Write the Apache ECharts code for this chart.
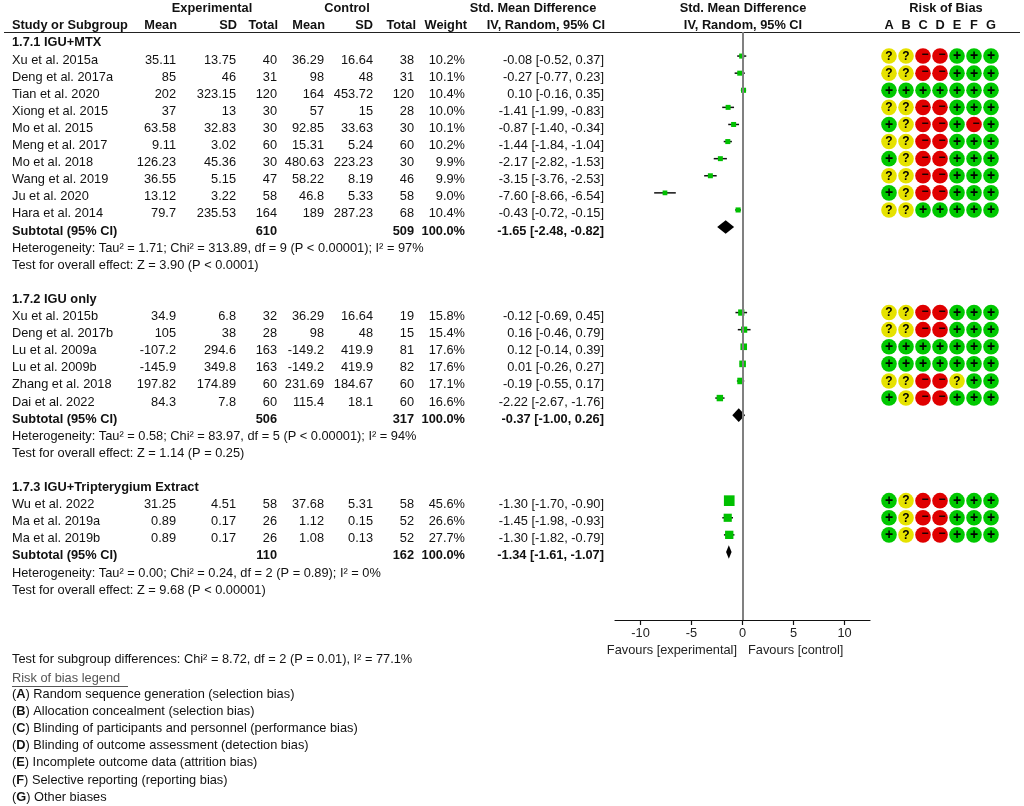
<!DOCTYPE html>
<html><head><meta charset="utf-8">
<script src="https://cdn.jsdelivr.net/npm/echarts@6/dist/echarts.min.js"></script>
<style>html,body{margin:0;padding:0;background:#fff;}#c{width:1024px;height:806px;}</style>
</head><body><div id="c"></div>
<script>
// ---------------- DATA ----------------
const groupLabels = ["1.7.1 IGU+MTX", "1.7.2 IGU only", "1.7.3 IGU+Tripterygium Extract"];

const studies1 = ["Xu et al. 2015a","Deng et al. 2017a","Tian et al. 2020","Xiong et al. 2015","Mo et al. 2015","Meng et al. 2017","Mo et al. 2018","Wang et al. 2019","Ju et al. 2020","Hara et al. 2014"];
const expMean1 = ["35.11","85","202","37","63.58","9.11","126.23","36.55","13.12","79.7"];
const expSD1   = ["13.75","46","323.15","13","32.83","3.02","45.36","5.15","3.22","235.53"];
const expN1    = [40,31,120,30,30,60,30,47,58,164];
const ctlMean1 = ["36.29","98","164","57","92.85","15.31","480.63","58.22","46.8","189"];
const ctlSD1   = ["16.64","48","453.72","15","33.63","5.24","223.23","8.19","5.33","287.23"];
const ctlN1    = [38,31,120,28,30,60,30,46,58,68];
const weight1  = [10.2,10.1,10.4,10.0,10.1,10.2,9.9,9.9,9.0,10.4];
const smd1     = [-0.08,-0.27,0.10,-1.41,-0.87,-1.44,-2.17,-3.15,-7.60,-0.43];
const lo1      = [-0.52,-0.77,-0.16,-1.99,-1.40,-1.84,-2.82,-3.76,-8.66,-0.72];
const hi1      = [0.37,0.23,0.35,-0.83,-0.34,-1.04,-1.53,-2.53,-6.54,-0.15];
const rob1     = ["??--+++","??--+++","+++++++","??--+++","+?--+-+","??--+++","+?--+++","??--+++","+?--+++","??+++++"];

const studies2 = ["Xu et al. 2015b","Deng et al. 2017b","Lu et al. 2009a","Lu et al. 2009b","Zhang et al. 2018","Dai et al. 2022"];
const expMean2 = ["34.9","105","-107.2","-145.9","197.82","84.3"];
const expSD2   = ["6.8","38","294.6","349.8","174.89","7.8"];
const expN2    = [32,28,163,163,60,60];
const ctlMean2 = ["36.29","98","-149.2","-149.2","231.69","115.4"];
const ctlSD2   = ["16.64","48","419.9","419.9","184.67","18.1"];
const ctlN2    = [19,15,81,82,60,60];
const weight2  = [15.8,15.4,17.6,17.6,17.1,16.6];
const smd2     = [-0.12,0.16,0.12,0.01,-0.19,-2.22];
const lo2      = [-0.69,-0.46,-0.14,-0.26,-0.55,-2.67];
const hi2      = [0.45,0.79,0.39,0.27,0.17,-1.76];
const rob2     = ["??--+++","??--+++","+++++++","+++++++","??--?++","+?--+++"];

const studies3 = ["Wu et al. 2022","Ma et al. 2019a","Ma et al. 2019b"];
const expMean3 = ["31.25","0.89","0.89"];
const expSD3   = ["4.51","0.17","0.17"];
const expN3    = [58,26,26];
const ctlMean3 = ["37.68","1.12","1.08"];
const ctlSD3   = ["5.31","0.15","0.13"];
const ctlN3    = [58,52,52];
const weight3  = [45.6,26.6,27.7];
const smd3     = [-1.30,-1.45,-1.30];
const lo3      = [-1.70,-1.98,-1.82];
const hi3      = [-0.90,-0.93,-0.79];
const rob3     = ["+?--+++","+?--+++","+?--+++"];

const subExpN  = [610,506,110];
const subCtlN  = [509,317,162];
const subSmd   = [-1.65,-0.37,-1.34];
const subLo    = [-2.48,-1.00,-1.61];
const subHi    = [-0.82,0.26,-1.07];
const heteroText = [
  "Heterogeneity: Tau\u00b2 = 1.71; Chi\u00b2 = 313.89, df = 9 (P < 0.00001); I\u00b2 = 97%",
  "Heterogeneity: Tau\u00b2 = 0.58; Chi\u00b2 = 83.97, df = 5 (P < 0.00001); I\u00b2 = 94%",
  "Heterogeneity: Tau\u00b2 = 0.00; Chi\u00b2 = 0.24, df = 2 (P = 0.89); I\u00b2 = 0%"
];
const effectText = [
  "Test for overall effect: Z = 3.90 (P < 0.0001)",
  "Test for overall effect: Z = 1.14 (P = 0.25)",
  "Test for overall effect: Z = 9.68 (P < 0.00001)"
];

const axisTicks = [-10,-5,0,5,10];
const robLetters = ["A","B","C","D","E","F","G"];
const robLegend = [
  "Random sequence generation (selection bias)",
  "Allocation concealment (selection bias)",
  "Blinding of participants and personnel (performance bias)",
  "Blinding of outcome assessment (detection bias)",
  "Incomplete outcome data (attrition bias)",
  "Selective reporting (reporting bias)",
  "Other biases"
];
const subgroupText = "Test for subgroup differences: Chi\u00b2 = 8.72, df = 2 (P = 0.01), I\u00b2 = 77.1%";

// ---------------- LAYOUT ----------------
const FF = '"Liberation Sans", Arial, sans-serif';
const FS = 12.8;
const TXT = '#111';
const ROW0 = 60, ROWH = 17.1, GTOP = 32, GBOT = 620;
const yMin = (GTOP - ROW0) / ROWH, yMax = (GBOT - ROW0) / ROWH;
const COL = {name:12, em:176, es:236, en:277, cm:324, cs:373, cn:414, w:465, ci:604};
const ROBX = [889, 906, 923, 940, 957, 974, 991];
const MOFF = -0.23; // marker offset relative to text row

const groups = [
  {names:studies1, em:expMean1, es:expSD1, en:expN1, cm:ctlMean1, cs:ctlSD1, cn:ctlN1, w:weight1, smd:smd1, lo:lo1, hi:hi1, rob:rob1},
  {names:studies2, em:expMean2, es:expSD2, en:expN2, cm:ctlMean2, cs:ctlSD2, cn:ctlN2, w:weight2, smd:smd2, lo:lo2, hi:hi2, rob:rob2},
  {names:studies3, em:expMean3, es:expSD3, en:expN3, cm:ctlMean3, cs:ctlSD3, cn:ctlN3, w:weight3, smd:smd3, lo:lo3, hi:hi3, rob:rob3}
];

const cells = [], studyPts = [], diamonds = [], robPts = [];
const ciTxt = (e,l,h) => e.toFixed(2) + " [" + l.toFixed(2) + ", " + h.toFixed(2) + "]";
let r = -1;
groups.forEach((g, gi) => {
  cells.push({x:COL.name, r:r, text:groupLabels[gi], align:'left', bold:true});
  r++;
  g.names.forEach((n, i) => {
    cells.push({x:COL.name, r, text:n, align:'left'});
    cells.push({x:COL.em, r, text:g.em[i], align:'right'});
    cells.push({x:COL.es, r, text:g.es[i], align:'right'});
    cells.push({x:COL.en, r, text:String(g.en[i]), align:'right'});
    cells.push({x:COL.cm, r, text:g.cm[i], align:'right'});
    cells.push({x:COL.cs, r, text:g.cs[i], align:'right'});
    cells.push({x:COL.cn, r, text:String(g.cn[i]), align:'right'});
    cells.push({x:COL.w, r, text:g.w[i].toFixed(1) + "%", align:'right'});
    cells.push({x:COL.ci, r, text:ciTxt(g.smd[i], g.lo[i], g.hi[i]), align:'right'});
    studyPts.push([g.smd[i], r + MOFF, g.lo[i], g.hi[i], g.w[i]]);
    g.rob[i].split("").forEach((c, k) => robPts.push([ROBX[k], r + MOFF, "+?-".indexOf(c)]));
    r++;
  });
  cells.push({x:COL.name, r, text:"Subtotal (95% CI)", align:'left', bold:true});
  cells.push({x:COL.en, r, text:String(subExpN[gi]), align:'right', bold:true});
  cells.push({x:COL.cn, r, text:String(subCtlN[gi]), align:'right', bold:true});
  cells.push({x:COL.w, r, text:"100.0%", align:'right', bold:true});
  cells.push({x:COL.ci, r, text:ciTxt(subSmd[gi], subLo[gi], subHi[gi]), align:'right', bold:true});
  diamonds.push([subSmd[gi], r + MOFF, subLo[gi], subHi[gi]]);
  r++;
  cells.push({x:COL.name, r, text:heteroText[gi], align:'left'});
  r++;
  cells.push({x:COL.name, r, text:effectText[gi], align:'left'});
  r += 2;
});

// ---------------- CHART ----------------
const chart = echarts.init(document.getElementById('c'), null, {renderer:'canvas'});

function txt(x, y, text, align, bold, fill) {
  return {type:'text', x, y, silent:true, style:{text, font:(bold?'bold ':'') + FS + 'px ' + FF, fill:fill || TXT,
    align, textAlign:align, verticalAlign:'middle', textVerticalAlign:'middle'}};
}

const graphics = [
  {type:'line', silent:true, shape:{x1:4, y1:32.5, x2:1020, y2:32.5}, style:{stroke:'#222', lineWidth:1}},
  txt(212, 8, "Experimental", 'center', true),
  txt(347, 8, "Control", 'center', true),
  txt(533, 8, "Std. Mean Difference", 'center', true),
  txt(743, 8, "Std. Mean Difference", 'center', true),
  txt(946, 8, "Risk of Bias", 'center', true),
  txt(COL.name, 25, "Study or Subgroup", 'left', true),
  txt(COL.em + 1, 25, "Mean", 'right', true),
  txt(COL.es + 1, 25, "SD", 'right', true),
  txt(COL.en + 1, 25, "Total", 'right', true),
  txt(COL.cm + 1, 25, "Mean", 'right', true),
  txt(COL.cs, 25, "SD", 'right', true),
  txt(COL.cn + 2, 25, "Total", 'right', true),
  txt(COL.w + 2, 25, "Weight", 'right', true),
  txt(COL.ci + 1, 25, "IV, Random, 95% CI", 'right', true),
  txt(743, 25, "IV, Random, 95% CI", 'center', true),
  txt(737, 650, "Favours [experimental]", 'right', false, '#222'),
  txt(748, 650, "Favours [control]", 'left', false, '#222'),
  txt(12, 659, subgroupText, 'left', false),
  txt(12, 678, "Risk of bias legend", 'left', false, '#555'),
  {type:'line', silent:true, shape:{x1:12, y1:686.5, x2:128, y2:686.5}, style:{stroke:'#555', lineWidth:1}}
];
robLetters.forEach((L, k) => graphics.push(txt(ROBX[k], 25, L, 'center', true)));
robLegend.forEach((t, k) => {
  graphics.push({type:'text', x:12, y:694 + k * 17.2, silent:true, style:{
    text:"({b|" + robLetters[k] + "}) " + t, font:FS + 'px ' + FF, fill:TXT, align:'left', textAlign:'left',
    verticalAlign:'middle', textVerticalAlign:'middle',
    rich:{b:{fontWeight:'bold', fontSize:FS, fontFamily:FF, fill:TXT, color:TXT}}
  }});
});

const robColors = ['#00c800', '#e6e200', '#e00000'];
const robSym = ['+', '?', '\u2212'];

chart.setOption({
  animation:false,
  backgroundColor:'#fff',
  grid:[
    {left:0, top:GTOP, width:1024, bottom:806 - GBOT},
    {left:615, top:GTOP, width:255, bottom:806 - GBOT}
  ],
  xAxis:[
    {gridIndex:0, type:'value', min:0, max:1024, show:false},
    {gridIndex:1, type:'value', min:-12.5, max:12.5, position:'bottom',
     axisLine:{show:true, onZero:false, lineStyle:{color:'#111', width:1.2}},
     axisTick:{show:true, inside:false, length:5, customValues:axisTicks, lineStyle:{color:'#111', width:1.2}},
     axisLabel:{show:true, customValues:axisTicks, margin:7, color:'#222', fontSize:FS, fontFamily:FF},
     splitLine:{show:false}}
  ],
  yAxis:[
    {gridIndex:0, type:'value', inverse:true, min:yMin, max:yMax, show:false},
    {gridIndex:1, type:'value', inverse:true, min:yMin, max:yMax, show:false}
  ],
  graphic:graphics,
  series:[
    {
      type:'custom', xAxisIndex:0, yAxisIndex:0, silent:true,
      data:cells.map(c => [c.x, c.r]),
      renderItem:(params, api) => {
        const c = cells[params.dataIndex];
        const p = api.coord([api.value(0), api.value(1)]);
        return {type:'text', x:p[0], y:p[1], style:{text:c.text, font:(c.bold ? 'bold ' : '') + FS + 'px ' + FF, fill:TXT,
          align:c.align, textAlign:c.align, verticalAlign:'middle', textVerticalAlign:'middle'}};
      }
    },
    {
      type:'custom', xAxisIndex:0, yAxisIndex:0, silent:true,
      data:robPts,
      renderItem:(params, api) => {
        const p = api.coord([api.value(0), api.value(1)]);
        const k = api.value(2);
        const isMinus = k === 2;
        return {type:'group', children:[
          {type:'circle', shape:{cx:p[0], cy:p[1], r:7.8}, style:{fill:robColors[k]}},
          {type:'text', x:p[0] + (isMinus ? 2 : 0), y:p[1] + (isMinus ? -1 : 0.5), style:{text:robSym[k],
            font:'bold ' + (k === 0 ? 14 : 12) + 'px ' + FF, fill:'#000', align:'center', textAlign:'center',
            verticalAlign:'middle', textVerticalAlign:'middle'}}
        ]};
      }
    },
    {
      type:'custom', xAxisIndex:1, yAxisIndex:1, silent:true,
      data:studyPts,
      renderItem:(params, api) => {
        const y = api.value(1);
        const p = api.coord([api.value(0), y]);
        const pl = api.coord([api.value(2), y]);
        const ph = api.coord([api.value(3), y]);
        const s = 1.58 * Math.sqrt(api.value(4));
        return {type:'group', children:[
          {type:'line', shape:{x1:pl[0], y1:p[1], x2:ph[0], y2:p[1]}, style:{stroke:'#111', lineWidth:1.5}},
          {type:'rect', shape:{x:p[0] - s / 2, y:p[1] - s / 2, width:s, height:s}, style:{fill:'#00c000'}}
        ]};
      },
      markLine:{silent:true, symbol:'none', label:{show:false},
        lineStyle:{color:'#808080', width:2, type:'solid'}, data:[{xAxis:0}]}
    },
    {
      type:'custom', xAxisIndex:1, yAxisIndex:1, silent:true,
      data:diamonds,
      renderItem:(params, api) => {
        const y = api.value(1);
        const p = api.coord([api.value(0), y]);
        const pl = api.coord([api.value(2), y]);
        const ph = api.coord([api.value(3), y]);
        const h = 6.8;
        return {type:'polygon', shape:{points:[[pl[0], p[1]], [p[0], p[1] - h], [ph[0], p[1]], [p[0], p[1] + h]]},
          style:{fill:'#000'}};
      }
    }
  ]
});
</script></body></html>
